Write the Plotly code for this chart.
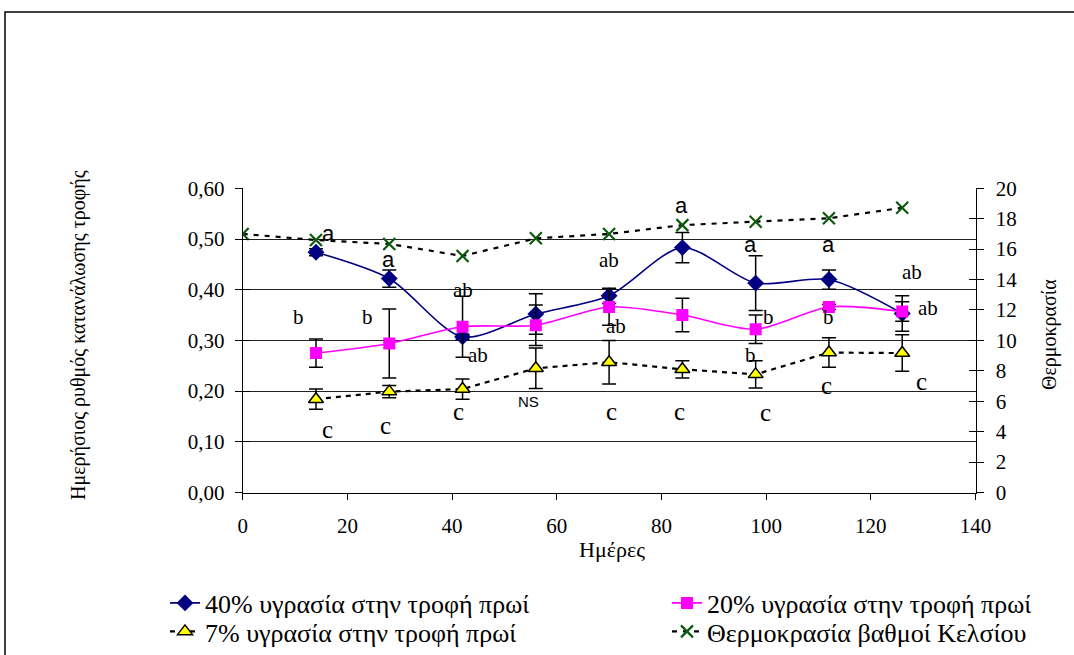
import plotly.graph_objects as go

W, H = 1074, 655

# ---------------- data ----------------
days = [14, 28, 42, 56, 70, 84, 98, 112, 126]
m40 = [0.474, 0.422, 0.307, 0.352, 0.388, 0.483, 0.413, 0.420, 0.353]
e40 = [0.007, 0.017, 0.005, 0.040, 0.015, 0.030, 0.054, 0.019, 0.035]
m20 = [0.275, 0.294, 0.327, 0.330, 0.366, 0.350, 0.322, 0.366, 0.357]
e20 = [0.028, 0.068, 0.060, 0.040, 0.036, 0.033, 0.028, 0.005, 0.019]
m7 = [0.184, 0.199, 0.204, 0.245, 0.257, 0.243, 0.233, 0.276, 0.275]
e7 = [0.020, 0.012, 0.020, 0.040, 0.043, 0.017, 0.027, 0.029, 0.036]
temp_days = [0, 14, 28, 42, 56, 70, 84, 98, 112, 126]
temp = [17.0, 16.6, 16.34, 15.55, 16.71, 17.0, 17.58, 17.8, 18.03, 18.72]

names = ["40% υγρασία στην τροφή πρωί", "20% υγρασία στην τροφή πρωί",
         "7% υγρασία στην τροφή πρωί", "Θερμοκρασία βαθμοί Κελσίου"]

# significance letters: (text, day, value, style)
letters = [
    ("a", 16.3, 0.511, "sans"), ("a", 27.8, 0.459, "sans"), ("ab", 42.0, 0.400, "serif"),
    ("b", 10.7, 0.346, "serif"), ("b", 23.8, 0.346, "serif"), ("ab", 45.0, 0.271, "serif"),
    ("ab", 70.0, 0.459, "serif"), ("a", 83.8, 0.567, "sans"), ("ab", 71.4, 0.328, "serif"),
    ("a", 97.1, 0.490, "sans"), ("a", 111.9, 0.490, "sans"), ("ab", 127.8, 0.435, "serif"),
    ("ab", 131.0, 0.363, "serif"), ("b", 100.4, 0.346, "serif"), ("b", 112.0, 0.346, "serif"),
    ("b", 97.0, 0.271, "serif"),
    ("c", 16.2, 0.124, "serifc"), ("c", 27.3, 0.133, "serifc"), ("c", 41.3, 0.159, "serifc"),
    ("NS", 54.6, 0.179, "ns"), ("c", 70.4, 0.159, "serifc"), ("c", 83.5, 0.159, "serifc"),
    ("c", 99.8, 0.157, "serifc"), ("c", 111.6, 0.211, "serifc"), ("c", 129.6, 0.218, "serifc"),
]

SERIF = "Liberation Serif"
SANS = "Liberation Sans"

# plot-area geometry in pixels
PX0, PX1 = 242.7, 975.5
PY0, PY1 = 188.3, 492.5
xdom = [PX0 / W, PX1 / W]
ydom = [1 - PY1 / H, 1 - PY0 / H]

fig = go.Figure()

eb = dict(type="data", color="black", thickness=1.5, width=7)

fig.add_trace(go.Scatter(
    x=days, y=m40, name=names[0], mode="lines+markers", legend="legend",
    line=dict(color="#000080", width=1.6, shape="spline", smoothing=0.8),
    marker=dict(symbol="diamond", size=13, color="#000080"),
    error_y=dict(array=e40, **eb)))
fig.add_trace(go.Scatter(
    x=days, y=m20, name=names[1], mode="lines+markers", legend="legend2",
    line=dict(color="#FF00FF", width=1.6, shape="spline", smoothing=0.8),
    marker=dict(symbol="square", size=12, color="#FF00FF"),
    error_y=dict(array=e20, **eb)))
fig.add_trace(go.Scatter(
    x=days, y=m7, name=names[2], mode="lines+markers", legend="legend3",
    line=dict(color="black", width=2.2, dash="5px,5px"),
    marker=dict(symbol="triangle-up", size=13, color="#FFFF00",
                line=dict(color="black", width=1.5)),
    error_y=dict(array=e7, **eb)))
fig.add_trace(go.Scatter(
    x=temp_days, y=temp, name=names[3], mode="lines+markers", legend="legend4",
    yaxis="y2",
    line=dict(color="black", width=2.2, dash="5px,6px"),
    marker=dict(symbol="x-thin", size=12, color="#0B5A0B",
                line=dict(color="#0B5A0B", width=2.2))))

# dummy traces for inner halves of the cross ticks
fig.add_trace(go.Scatter(x=[None], y=[None], yaxis="y3", showlegend=False, hoverinfo="skip"))
fig.add_trace(go.Scatter(x=[None], y=[None], yaxis="y4", showlegend=False, hoverinfo="skip"))

annotations = []
for txt, xv, yv, st in letters:
    if st == "sans":
        f = dict(family=SANS, size=22, color="black")
    elif st == "ns":
        f = dict(family=SANS, size=15, color="black")
    elif st == "serifc":
        f = dict(family=SERIF, size=25, color="black")
    else:
        f = dict(family=SERIF, size=21, color="black")
    annotations.append(dict(x=xv, y=yv, xref="x", yref="y", text=txt, showarrow=False,
                            font=f, xanchor="center", yanchor="middle"))

# axis titles
annotations.append(dict(x=78 / W, y=1 - 335 / H, xref="paper", yref="paper",
                        text="Ημερήσιος ρυθμός κατανάλωσης τροφής", textangle=-90,
                        showarrow=False, font=dict(family=SERIF, size=20, color="black"),
                        xanchor="center", yanchor="middle"))
annotations.append(dict(x=1049 / W, y=1 - 335 / H, xref="paper", yref="paper",
                        text="Θερμοκρασία", textangle=-90,
                        showarrow=False, font=dict(family=SERIF, size=20, color="black"),
                        xanchor="center", yanchor="middle"))
annotations.append(dict(x=612 / W, y=1 - 549 / H, xref="paper", yref="paper",
                        text="Ημέρες", showarrow=False,
                        font=dict(family=SERIF, size=22, color="black"),
                        xanchor="center", yanchor="middle"))

tickfont = dict(family=SERIF, size=21, color="black")
leg_common = dict(orientation="h", xref="paper", yref="paper", xanchor="left",
                  font=dict(family=SERIF, size=26, color="black"),
                  bgcolor="rgba(0,0,0,0)", itemclick=False, itemdoubleclick=False)

# outer chart frame (top and left edges visible), kept inside the page
fx, fy = 5 / W, 1 - 12 / H
frame_path = f"M {fx},0 L {fx},{fy} L 1,{fy}"

fig.update_layout(
    width=W, height=H, autosize=False,
    margin=dict(l=0, r=0, t=0, b=0),
    paper_bgcolor="white", plot_bgcolor="white",
    separators=",.",
    showlegend=True,
    xaxis=dict(domain=xdom, range=[0, 140], dtick=20, tick0=0, showgrid=False, zeroline=False,
               showline=True, linecolor="black", linewidth=1.2, ticks="outside", ticklen=6,
               tickcolor="black", tickfont=tickfont, automargin=False, anchor="y",
               ticklabelstandoff=8),
    yaxis=dict(domain=ydom, range=[0, 0.6], dtick=0.1, tick0=0, tickformat=".2f",
               showgrid=True, gridcolor="#222222", gridwidth=1, zeroline=False,
               showline=True, linecolor="black", linewidth=1.2, ticks="outside", ticklen=7,
               tickcolor="black", tickfont=tickfont, automargin=False, anchor="x",
               ticklabelstandoff=6),
    yaxis2=dict(range=[0, 20], dtick=2, tick0=0, overlaying="y", side="right", anchor="x",
                showgrid=False, zeroline=False, showline=True, linecolor="black", linewidth=1.2,
                ticks="outside", ticklen=7, tickcolor="black", tickfont=tickfont,
                automargin=False, ticklabelstandoff=8),
    yaxis3=dict(range=[0, 0.6], dtick=0.1, tick0=0, overlaying="y", side="left", anchor="x",
                showgrid=False, zeroline=False, showline=False, ticks="inside", ticklen=7,
                tickcolor="black", showticklabels=False, automargin=False),
    yaxis4=dict(range=[0, 20], dtick=2, tick0=0, overlaying="y", side="right", anchor="x",
                showgrid=False, zeroline=False, showline=False, ticks="inside", ticklen=7,
                tickcolor="black", showticklabels=False, automargin=False),
    legend=dict(x=165 / W, y=1 - 603 / H, yanchor="middle", **leg_common),
    legend2=dict(x=667 / W, y=1 - 603 / H, yanchor="middle", **leg_common),
    legend3=dict(x=165 / W, y=0, yanchor="bottom", **leg_common),
    legend4=dict(x=667 / W, y=0, yanchor="bottom", **leg_common),
    annotations=annotations,
    shapes=[dict(type="path", xref="paper", yref="paper", path=frame_path,
                 line=dict(color="black", width=1.5), layer="below")],
)

fig.write_html("out.html", config={"responsive": False})
